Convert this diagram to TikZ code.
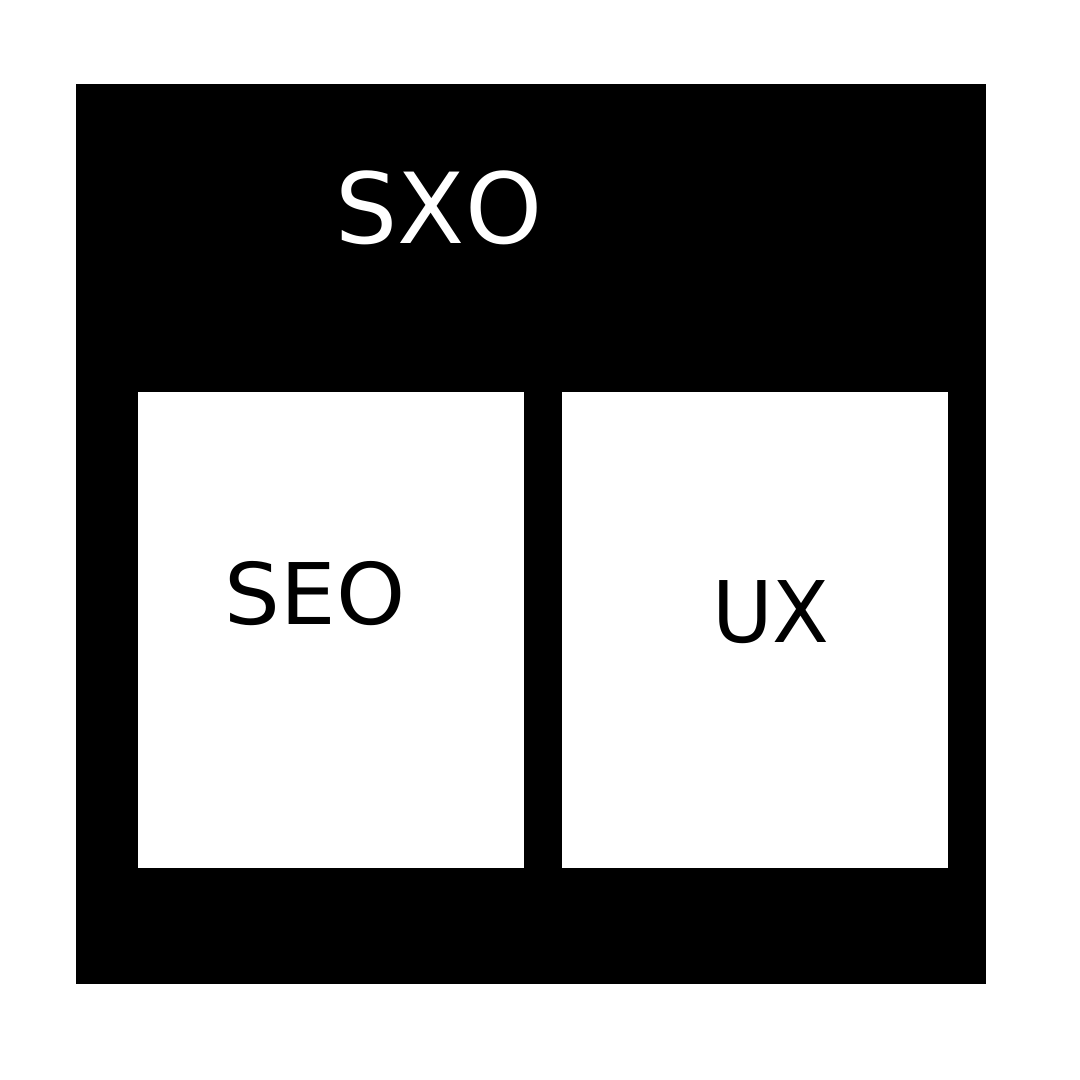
\documentclass[tikz,border=0pt]{standalone}
\usepackage{fontspec}
\usepackage{graphicx}
\setmainfont[Kerning=Off]{DejaVu Sans}
\tikzset{
  outerbox/.style={fill=black,draw=none,anchor=north west,inner sep=0pt,minimum width=910pt,minimum height=900pt},
  innerbox/.style={fill=white,draw=none,anchor=north west,inner sep=0pt,minimum width=386pt,minimum height=476pt},
  biglabel/.style={inner sep=0pt,text=white,font=\fontsize{98}{98}\selectfont},
  smalllabel/.style={inner sep=0pt,text=black,font=\fontsize{85}{85}\selectfont}
}
\begin{document}
\begin{tikzpicture}[x=1pt,y=-1pt]
\useasboundingbox (0,0) rectangle (1080,1080);
\node[outerbox] (outer) at (76,84) {};
\node[innerbox] (seobox) at (138,392) {};
\node[innerbox] (uxbox) at (562,392) {};
\node[biglabel] (sxo) at (439,208) {SXO};
\node[smalllabel] (seo) at (315,594) {\scalebox{1.035}[1]{SEO}};
\node[smalllabel] (ux) at (771,612) {\scalebox{0.975}[1]{UX}};
\end{tikzpicture}
\end{document}
